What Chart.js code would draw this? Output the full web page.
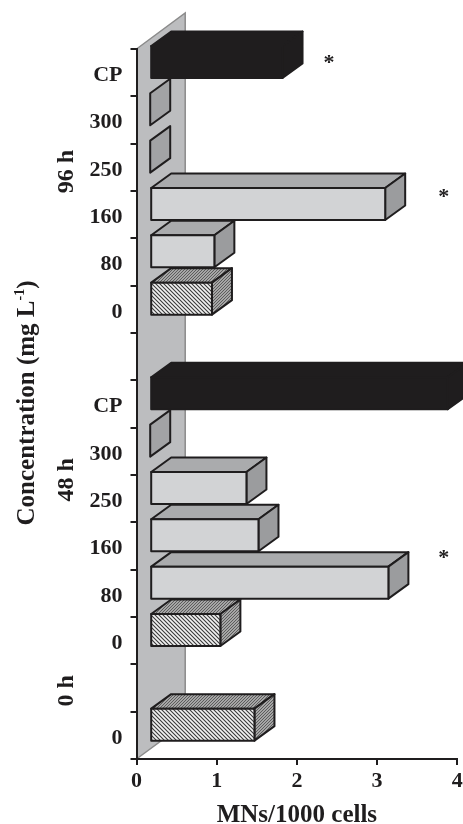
<!DOCTYPE html>
<html>
<head>
<meta charset="utf-8">
<style>
  html, body { margin: 0; padding: 0; background: #fff; overflow: hidden; }
  #wrap { width: 463px; height: 824px; }
</style>
<script src="https://cdn.jsdelivr.net/npm/chart.js@4/dist/chart.umd.min.js"></script>
</head>
<body>
<div id="wrap"><canvas id="chart"></canvas></div>
<script>
// rows run top to bottom, blank rows separate the time groups
const categories = ["CP", "300", "250", "160", "80", "0", "", "CP", "300", "250", "160", "80", "0", "", "0"];
const mnValues = [1.65, 0, 0, 2.93, 0.8, 0.77, null, 3.71, 0, 1.2, 1.35, 2.97, 0.875, null, 1.3];
const xTicks = [0, 1, 2, 3, 4];

const groupLabels = ["96 h", "48 h", "0 h"];
const groupRows = [2.09, 8.6, 13.06];

const starValues = [2.4, 3.83, 3.83];
const starRows = [-0.27, 2.58, 10.19];

const FONT = '"Liberation Serif", serif';
const INK = "#1f1d1e";

// 3d offsets in px
const WALL_DX = 48.7, WALL_DY = 36;
const BAR_DX = 13.7, BAR_DY = 10.7;
const SIDE_DX = 20, SIDE_DY = 14.5;

function hatchPattern(ctx) {
  const c = document.createElement("canvas");
  c.width = c.height = 4;
  const g = c.getContext("2d");
  g.fillStyle = "#f2f2f2";
  g.fillRect(0, 0, 4, 4);
  g.strokeStyle = "#3a3a3a";
  g.lineWidth = 1.1;
  g.beginPath();
  g.moveTo(-1, -1); g.lineTo(5, 5);
  g.moveTo(-1, 3); g.lineTo(1, 5);
  g.moveTo(3, -1); g.lineTo(5, 1);
  g.stroke();
  return ctx.createPattern(c, "repeat");
}

function dotPattern(ctx) {
  const c = document.createElement("canvas");
  c.width = c.height = 3;
  const g = c.getContext("2d");
  g.fillStyle = "#a6a6a6";
  g.fillRect(0, 0, 3, 3);
  g.fillStyle = "#5c5c5c";
  g.fillRect(0, 0, 1, 1);
  g.fillRect(2, 1, 1, 1);
  g.fillRect(1, 2, 1, 1);
  return ctx.createPattern(c, "repeat");
}

function poly(ctx, pts, fill, stroke) {
  ctx.beginPath();
  pts.forEach((p, i) => (i ? ctx.lineTo(p[0], p[1]) : ctx.moveTo(p[0], p[1])));
  ctx.closePath();
  ctx.fillStyle = fill;
  ctx.fill();
  if (stroke) {
    ctx.strokeStyle = stroke;
    ctx.stroke();
  }
}

const wallPlugin = {
  id: "wall",
  beforeDraw(chart) {
    const { ctx, chartArea: a } = chart;
    ctx.save();
    poly(ctx, [
      [a.left, a.bottom],
      [a.left + WALL_DX, a.bottom - WALL_DY],
      [a.left + WALL_DX, a.top - WALL_DY],
      [a.left, a.top]
    ], "#bcbdbf");
    ctx.lineWidth = 1.5;
    ctx.strokeStyle = "#8b8b8b";
    ctx.beginPath();
    ctx.moveTo(a.left, a.bottom);
    ctx.lineTo(a.left + WALL_DX, a.bottom - WALL_DY);
    ctx.lineTo(a.left + WALL_DX, a.top - WALL_DY);
    ctx.lineTo(a.left, a.top);
    ctx.stroke();
    ctx.restore();
  }
};

const bar3dPlugin = {
  id: "bar3d",
  afterDatasetsDraw(chart) {
    const { ctx } = chart;
    const hatch = hatchPattern(ctx), dots = dotPattern(ctx);
    ctx.save();
    ctx.lineWidth = 2;
    ctx.lineJoin = "round";
    chart.getDatasetMeta(0).data.forEach((bar, i) => {
      if (mnValues[i] === null) return;
      const p = bar.getProps(["x", "y", "base", "height"], true);
      const l = p.base + BAR_DX, r = p.x + BAR_DX;
      const t = p.y - p.height / 2 - BAR_DY, b = p.y + p.height / 2 - BAR_DY;
      const top = [[l, t], [l + SIDE_DX, t - SIDE_DY], [r + SIDE_DX, t - SIDE_DY], [r, t]];
      const side = [[r, t], [r + SIDE_DX, t - SIDE_DY], [r + SIDE_DX, b - SIDE_DY], [r, b]];
      const front = [[l, t], [r, t], [r, b], [l, b]];
      const label = categories[i];
      if (label === "CP") {
        poly(ctx, top, INK, INK);
        poly(ctx, side, INK, INK);
        poly(ctx, front, INK, INK);
      } else if (label === "0") {
        poly(ctx, top, dots, INK);
        poly(ctx, side, dots, INK);
        poly(ctx, front, hatch, INK);
      } else if (mnValues[i] === 0) {
        poly(ctx, side, "#a2a3a5", INK);
      } else {
        poly(ctx, top, "#aaabad", INK);
        poly(ctx, side, "#9b9c9e", INK);
        poly(ctx, front, "#d2d3d5", INK);
      }
    });
    ctx.restore();
  }
};

const textPlugin = {
  id: "extraText",
  afterDraw(chart) {
    const { ctx, scales } = chart;
    ctx.save();
    ctx.fillStyle = INK;

    // asterisks
    ctx.font = "bold 22px " + FONT;
    ctx.textAlign = "center";
    ctx.textBaseline = "middle";
    starValues.forEach((v, i) => {
      ctx.fillText("*", scales.x.getPixelForValue(v), scales.y.getPixelForValue(starRows[i]) + 3);
    });

    // time group labels
    ctx.font = "bold 24px " + FONT;
    groupLabels.forEach((txt, i) => {
      ctx.save();
      ctx.translate(67, scales.y.getPixelForValue(groupRows[i]));
      ctx.rotate(-Math.PI / 2);
      ctx.fillText(txt, 0, 0);
      ctx.restore();
    });

    // y title, the exponent needs its own run
    const main = "Concentration (mg L", sup = "-1", end = ")";
    const mainFont = "bold 25px " + FONT, supFont = "bold 14px " + FONT;
    ctx.font = mainFont;
    const w1 = ctx.measureText(main).width, w3 = ctx.measureText(end).width;
    ctx.font = supFont;
    const w2 = ctx.measureText(sup).width;
    ctx.translate(27, 403);
    ctx.rotate(-Math.PI / 2);
    ctx.textAlign = "left";
    ctx.textBaseline = "alphabetic";
    let x = -(w1 + w2 + w3) / 2;
    ctx.font = mainFont;
    ctx.fillText(main, x, 7);
    x += w1;
    ctx.font = supFont;
    ctx.fillText(sup, x, -3);
    x += w2;
    ctx.font = mainFont;
    ctx.fillText(end, x, 7);
    ctx.restore();
  }
};

new Chart(document.getElementById("chart"), {
  type: "bar",
  data: {
    labels: categories,
    datasets: [{
      data: mnValues,
      backgroundColor: "transparent",
      borderWidth: 0,
      barPercentage: 0.676,
      categoryPercentage: 1
    }]
  },
  plugins: [wallPlugin, bar3dPlugin, textPlugin],
  options: {
    indexAxis: "y",
    responsive: true,
    maintainAspectRatio: false,
    animation: false,
    layout: { padding: { top: 49, right: 5.7, left: 0, bottom: 0 } },
    plugins: { legend: { display: false }, tooltip: { enabled: false } },
    scales: {
      x: {
        min: 0,
        max: 4,
        afterFit(s) { s.height = 65; s.paddingRight = 0; s.paddingLeft = 0; },
        afterBuildTicks(s) { s.ticks = xTicks.map((v) => ({ value: v })); },
        border: { color: INK, width: 2 },
        grid: { drawOnChartArea: false, color: INK, lineWidth: 2, tickLength: 6 },
        ticks: { color: INK, font: { family: FONT, size: 22, weight: "bold" }, padding: 3, maxRotation: 0 },
        title: {
          display: true,
          text: "MNs/1000 cells",
          color: INK,
          font: { family: FONT, size: 25, weight: "bold" },
          padding: { top: 10, bottom: -7 }
        }
      },
      y: {
        afterFit(s) { s.width = 136.5; },
        border: { color: INK, width: 2 },
        grid: { drawOnChartArea: false, color: INK, lineWidth: 2, tickLength: 6 },
        ticks: {
          color: INK,
          font: { family: FONT, size: 22, weight: "bold" },
          padding: 8,
          labelOffset: 2.5,
          autoSkip: false,
          maxRotation: 0
        }
      }
    }
  }
});
</script>
</body>
</html>
